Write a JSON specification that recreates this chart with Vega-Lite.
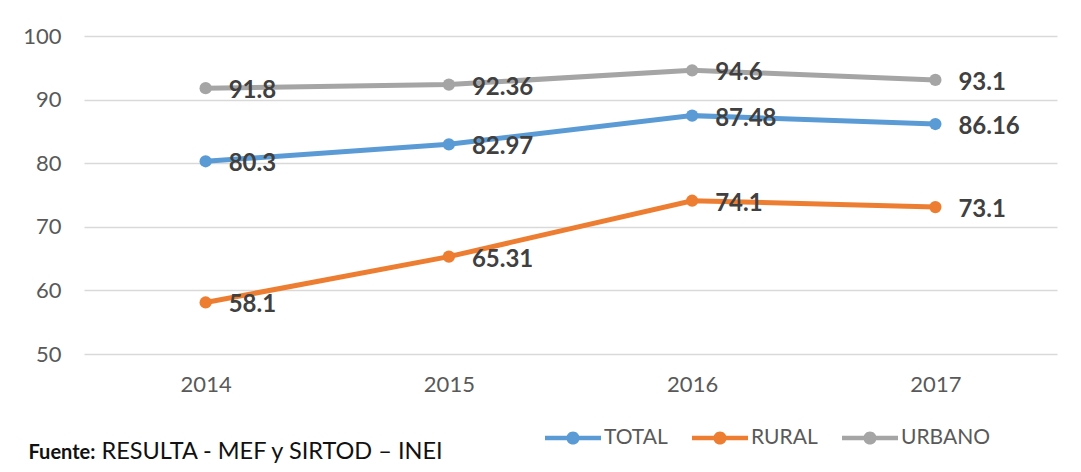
{
  "$schema": "https://vega.github.io/schema/vega-lite/v6.json",
  "width": 973,
  "height": 318,
  "autosize": {"type": "none"},
  "padding": {"left": 84, "top": 36, "right": 24, "bottom": 118},
  "background": "white",
  "config": {"view": {"stroke": null}, "font": "Lato"},
  "data": {
    "values": [
      {"year": "2014", "series": "TOTAL", "value": 80.3},
      {"year": "2015", "series": "TOTAL", "value": 82.97},
      {"year": "2016", "series": "TOTAL", "value": 87.48},
      {"year": "2017", "series": "TOTAL", "value": 86.16},
      {"year": "2014", "series": "RURAL", "value": 58.1},
      {"year": "2015", "series": "RURAL", "value": 65.31},
      {"year": "2016", "series": "RURAL", "value": 74.1},
      {"year": "2017", "series": "RURAL", "value": 73.1},
      {"year": "2014", "series": "URBANO", "value": 91.8},
      {"year": "2015", "series": "URBANO", "value": 92.36},
      {"year": "2016", "series": "URBANO", "value": 94.6},
      {"year": "2017", "series": "URBANO", "value": 93.1}
    ]
  },
  "encoding": {
    "x": {
      "field": "year",
      "type": "ordinal",
      "scale": {"type": "point", "padding": 0.5},
      "axis": {
        "title": "RESULTA - MEF y SIRTOD – INEI",
        "titleX": 17,
        "titleY": 104,
        "titleAlign": "left",
        "titleAnchor": "start",
        "titleBaseline": "alphabetic",
        "titleFontWeight": "normal",
        "titleFontSize": 23.5,
        "titleColor": "#111111",
        "titleFont": "Lato",
        "labelAngle": 0,
        "domain": false,
        "ticks": false,
        "grid": false,
        "labelPadding": 20,
        "labelFontSize": 22,
        "labelColor": "#595959"
      }
    },
    "y": {
      "field": "value",
      "type": "quantitative",
      "scale": {"domain": [50, 100], "nice": false, "zero": false},
      "axis": {
        "values": [50, 60, 70, 80, 90, 100],
        "title": "Fuente:",
        "titleAngle": 0,
        "titleX": -56,
        "titleY": 422,
        "titleAlign": "left",
        "titleAnchor": "start",
        "titleBaseline": "alphabetic",
        "titleFontWeight": "bold",
        "titleFontSize": 20,
        "titleColor": "#111111",
        "domain": false,
        "ticks": false,
        "gridColor": "#d9d9d9",
        "gridWidth": 1.5,
        "labelPadding": 23,
        "labelFontSize": 22,
        "labelColor": "#595959"
      }
    }
  },
  "layer": [
    {
      "mark": {"type": "line", "strokeWidth": 5},
      "encoding": {
        "color": {
          "field": "series",
          "type": "nominal",
          "scale": {"domain": ["TOTAL", "RURAL", "URBANO"], "range": ["#5B9BD5", "#ED7D31", "#A5A5A5"]},
          "legend": {
            "orient": "none",
            "legendX": 461,
            "legendY": 374,
            "direction": "horizontal",
            "columns": 3,
            "title": null,
            "padding": 0,
            "symbolType": "M-1,-0.08 L1,-0.08 L1,0.08 L-1,0.08 Z M-0.235,0 A0.235,0.235 0 1,1 0.235,0 A0.235,0.235 0 1,1 -0.235,0 Z",
            "symbolSize": 3136,
            "symbolStrokeWidth": 0,
            "labelFontSize": 21,
            "labelColor": "#595959",
            "labelOffset": 3,
            "columnPadding": 24,
            "encode": {
              "symbols": {
                "update": {
                  "fill": {"scale": "color", "field": "value"},
                  "stroke": {"value": "transparent"},
                  "strokeWidth": {"value": 0},
                  "opacity": {"value": 1}
                }
              }
            }
          }
        }
      }
    },
    {
      "mark": {"type": "point", "filled": true, "size": 150, "opacity": 1},
      "encoding": {
        "color": {"field": "series", "type": "nominal"}
      }
    },
    {
      "mark": {"type": "text", "align": "left", "baseline": "middle", "dx": 23, "dy": 3, "fontSize": 24, "fontWeight": "bold", "color": "#404040", "font": "Lato"},
      "encoding": {
        "text": {"field": "value", "type": "quantitative"}
      }
    }
  ]
}
